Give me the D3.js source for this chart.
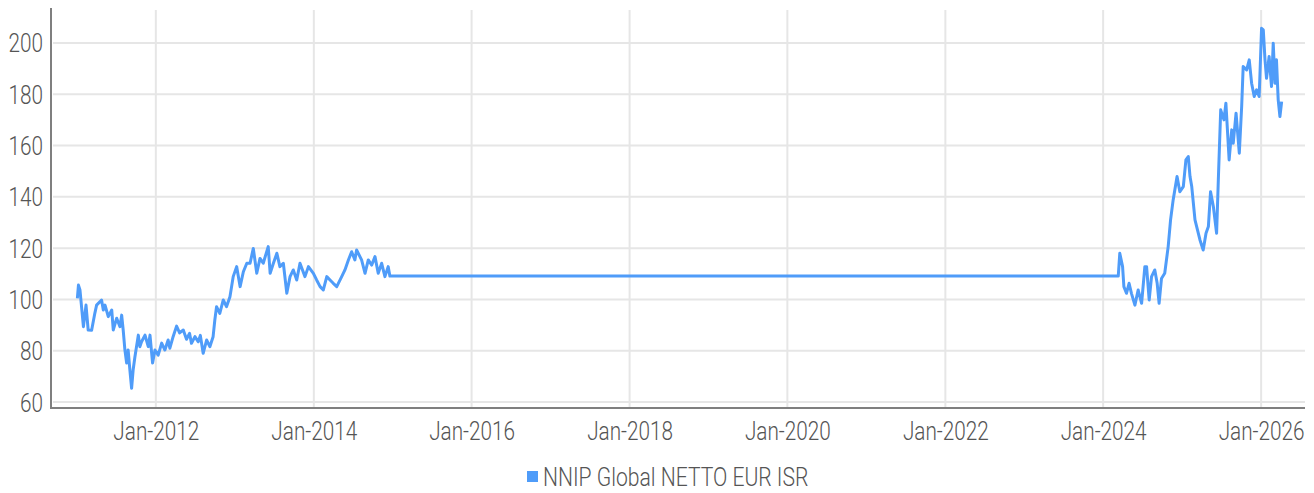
<!DOCTYPE html>
<html>
<head>
<meta charset="utf-8">
<script src="https://cdn.jsdelivr.net/npm/d3@7"></script>
<style>
  html, body { margin: 0; padding: 0; background: #ffffff; }
  svg { display: block; }
  text { font-family: "Roboto", "Noto Sans", sans-serif; font-weight: 300; fill: #555555; }
</style>
</head>
<body>
<svg id="chart" width="1314" height="493"></svg>
<script>
// ---- data ----
const seriesName = "NNIP Global NETTO EUR ISR";
const dates = [
  "2011-01-03","2011-01-08","2011-01-15","2011-01-31","2011-02-12","2011-02-22","2011-03-10","2011-03-25",
  "2011-04-02","2011-04-25","2011-05-03","2011-05-11","2011-05-26","2011-06-11","2011-06-18","2011-07-04",
  "2011-07-19","2011-07-27","2011-08-03","2011-08-11","2011-08-19","2011-08-26","2011-09-03","2011-09-11",
  "2011-09-18","2011-09-26","2011-10-12","2011-10-19","2011-10-27","2011-11-12","2011-11-27","2011-12-05",
  "2011-12-17","2011-12-28","2012-01-12","2012-01-28","2012-02-12","2012-02-27","2012-03-06","2012-03-21",
  "2012-04-06","2012-04-20","2012-05-07","2012-05-22","2012-06-05","2012-06-14","2012-06-30","2012-07-15",
  "2012-07-25","2012-08-07","2012-08-23","2012-09-07",
  "2012-09-22","2012-09-30","2012-10-08","2012-10-23","2012-11-08","2012-11-23","2012-12-09","2012-12-24",
  "2013-01-09","2013-01-25","2013-02-09","2013-02-25","2013-03-12","2013-03-27","2013-04-12","2013-04-27",
  "2013-05-12","2013-06-04","2013-06-13","2013-06-28","2013-07-14","2013-07-28","2013-08-13","2013-08-29",
  "2013-09-13","2013-09-28","2013-10-14","2013-10-29","2013-11-21","2013-12-07","2013-12-30","2014-01-14",
  "2014-01-30","2014-02-14","2014-03-02","2014-03-17","2014-04-01","2014-04-17","2014-05-10","2014-05-25",
  "2014-06-10","2014-06-25","2014-07-10","2014-07-18","2014-08-10","2014-08-26","2014-09-10","2014-09-26",
  "2014-10-11","2014-10-26","2014-11-11","2014-11-26","2014-12-11","2014-12-19",
  "2024-03-11",
  "2024-03-18","2024-03-31","2024-04-06","2024-04-18","2024-04-30","2024-05-11","2024-05-27","2024-06-11",
  "2024-06-27","2024-07-12","2024-07-20","2024-08-01","2024-08-12","2024-08-27","2024-09-07","2024-09-16",
  "2024-09-27","2024-10-12","2024-10-28","2024-11-08","2024-11-20","2024-12-08","2024-12-21","2025-01-06",
  "2025-01-18","2025-01-29","2025-02-06","2025-02-14","2025-03-01","2025-03-24","2025-04-08","2025-04-21",
  "2025-05-02","2025-05-12","2025-05-25","2025-06-09","2025-06-17","2025-06-28","2025-07-13","2025-07-22",
  "2025-08-06","2025-08-18","2025-08-25","2025-09-07","2025-09-22","2025-10-03","2025-10-10","2025-10-26",
  "2025-11-07","2025-11-18","2025-11-30","2025-12-11","2025-12-23","2026-01-03","2026-01-11","2026-01-19",
  "2026-01-26","2026-02-07","2026-02-18","2026-02-26","2026-03-06","2026-03-13","2026-03-21","2026-03-29",
  "2026-04-06"
];
const values = [
  100.4,105.6,103.7,89.4,97.8,88.1,88.0,94.7,
  97.8,99.8,95.9,97.8,93.3,95.9,88.1,92.7,
  89.4,93.9,88.1,80.3,75.2,80.3,72.5,65.4,
  72.5,77.5,86.1,81.6,83.5,86.1,81.6,86.1,
  75.2,80.3,78.3,83.0,80.3,84.2,81.0,85.5,
  89.6,87.0,88.1,84.5,86.8,82.9,85.5,83.5,
  86.0,79.0,84.2,81.6,
  85.5,92.0,97.2,94.6,99.8,97.2,101.1,108.9,
  112.8,105.0,110.8,114.1,114.1,119.9,110.2,116.0,
  114.1,120.6,110.2,114.1,118.0,112.8,114.1,102.4,
  108.9,111.5,107.6,114.1,108.9,112.8,110.2,107.6,
  105.0,103.7,108.9,107.6,106.3,105.0,108.9,111.5,
  115.4,118.6,115.4,119.3,115.4,110.2,115.4,113.4,
  116.7,110.2,114.1,108.9,112.8,109.1,
  109.1,
  118.0,112.8,105.0,102.4,106.3,102.4,97.8,103.7,
  98.5,112.8,112.8,99.8,108.9,111.5,106.3,98.5,
  108.2,110.2,120.6,131.0,138.8,147.9,142.0,144.0,
  154.4,155.7,147.9,144.0,131.0,123.2,119.3,125.8,
  128.4,142.0,136.2,125.8,146.6,173.9,170.0,176.5,
  154.4,166.1,160.9,172.6,157.0,175.2,190.8,189.5,
  193.4,184.3,179.1,181.7,179.1,205.7,205.1,193.4,
  186.2,194.7,183.0,199.9,184.3,193.4,177.8,171.3,
  177.1
];
const yTicks = [60, 80, 100, 120, 140, 160, 180, 200];
const xTickLabels = ["Jan-2012","Jan-2014","Jan-2016","Jan-2018","Jan-2020","Jan-2022","Jan-2024","Jan-2026"];
const xTickDates = ["2012-01-01","2014-01-01","2016-01-01","2018-01-01","2020-01-01","2022-01-01","2024-01-01","2026-01-01"];
const xDomain = ["2010-09-03","2026-07-23"];
const yDomain = [57.7, 213.6];

// ---- chart ----
const parse = d3.utcParse("%Y-%m-%d");
const data = dates.map((d, i) => ({ date: parse(d), value: values[i] }));

const svg = d3.select("#chart");
const mLeft = 51, mRight = 1305, mTop = 8, mBottom = 408;
const lineColor = "#4f9cf9";
const fontSize = "25px";
const squeeze = 0.83;

const x = d3.scaleUtc().domain(xDomain.map(parse)).range([mLeft, mRight]);
const y = d3.scaleLinear().domain(yDomain).range([mBottom, mTop]);

// horizontal grid
svg.append("g")
  .selectAll("line").data(yTicks).join("line")
  .attr("x1", mLeft + 2).attr("x2", mRight)
  .attr("y1", d => y(d)).attr("y2", d => y(d))
  .attr("stroke", "#e6e6e6").attr("stroke-width", 2);

// vertical grid
const xt = xTickDates.map(parse);
svg.append("g")
  .selectAll("line").data(xt).join("line")
  .attr("x1", d => x(d)).attr("x2", d => x(d))
  .attr("y1", mTop + 2).attr("y2", mBottom)
  .attr("stroke", "#e6e6e6").attr("stroke-width", 2);

// y axis
const yAxis = d3.axisLeft(y).tickValues(yTicks).tickSize(0).tickPadding(0);
const gy = svg.append("g").attr("transform", `translate(${mLeft - 8},0)`).call(yAxis);
gy.select(".domain").remove();
gy.selectAll("text").style("font-size", fontSize).attr("x", 0).attr("dy", "0.36em")
  .attr("transform", `scale(${squeeze},1)`);

// x axis
const xAxis = d3.axisBottom(x).tickValues(xt).tickSize(0).tickPadding(14)
  .tickFormat((d, i) => xTickLabels[i]);
const gx = svg.append("g").attr("transform", `translate(0,${mBottom})`).call(xAxis);
gx.select(".domain").remove();
gx.selectAll("text").style("font-size", fontSize).attr("transform", `scale(${squeeze},1)`);

// axis lines
svg.append("line").attr("x1", mLeft).attr("x2", mLeft).attr("y1", mTop).attr("y2", mBottom + 1)
  .attr("stroke", "#7f7f7f").attr("stroke-width", 2);
svg.append("line").attr("x1", mLeft).attr("x2", mRight).attr("y1", mBottom).attr("y2", mBottom)
  .attr("stroke", "#7f7f7f").attr("stroke-width", 2);

// line
const line = d3.line().x(d => x(d.date)).y(d => y(d.value));
svg.append("path").datum(data)
  .attr("d", line)
  .attr("fill", "none")
  .attr("stroke", lineColor)
  .attr("stroke-width", 3)
  .attr("stroke-linejoin", "round");

// legend
const lg = svg.append("g").attr("transform", "translate(527,471)");
lg.append("rect").attr("width", 11).attr("height", 11).attr("fill", lineColor);
lg.append("g").attr("transform", "translate(16,5.5)")
  .append("text").attr("dy", "0.36em").attr("transform", "scale(0.845,1)")
  .style("font-size", fontSize).text(seriesName);
</script>
</body>
</html>
